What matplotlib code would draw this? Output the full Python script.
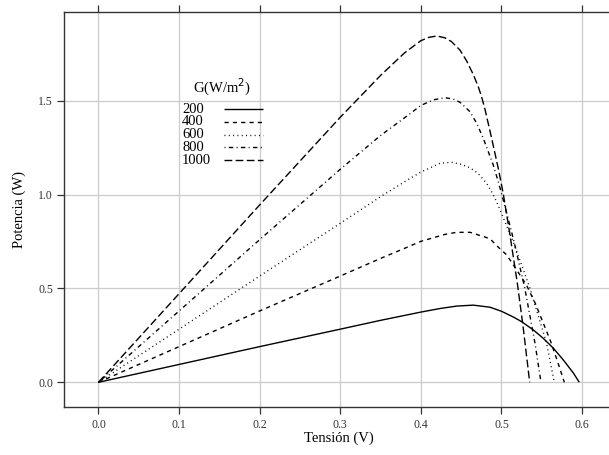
import numpy as np
import matplotlib
matplotlib.use("Agg")
import matplotlib.pyplot as plt

# Curvas potencia-tensión, una por irradiancia
irradiancias = [200, 400, 600, 800, 1000]

v_200 = [0.0, 0.1, 0.2, 0.3, 0.35, 0.4, 0.4237, 0.4444, 0.465, 0.4857, 0.5002,
         0.5146, 0.525, 0.5395, 0.5519, 0.5645, 0.5767, 0.5891, 0.5965]
p_200 = [0.0, 0.095, 0.19, 0.283, 0.33, 0.374, 0.393, 0.406, 0.411, 0.40, 0.378,
         0.348, 0.323, 0.279, 0.234, 0.181, 0.119, 0.05, 0.0]

v_400 = [0.0, 0.1, 0.2, 0.3, 0.35, 0.38, 0.40, 0.43, 0.4444, 0.461, 0.4857, 0.496,
         0.5066, 0.5217, 0.531, 0.542, 0.561, 0.570, 0.578]
p_400 = [0.0, 0.19, 0.38, 0.566, 0.66, 0.714, 0.751, 0.788, 0.799, 0.799, 0.765, 0.72,
         0.678, 0.58, 0.518, 0.42, 0.218, 0.105, 0.0]

v_600 = [0.0, 0.1, 0.2, 0.3, 0.35, 0.38, 0.40, 0.4237, 0.438, 0.4506, 0.4609, 0.471,
         0.4816, 0.4878, 0.494, 0.515, 0.5354, 0.556, 0.5655]
p_600 = [0.0, 0.283, 0.566, 0.847, 0.989, 1.069, 1.12, 1.167, 1.172, 1.161, 1.143, 1.113,
         1.06, 1.015, 0.962, 0.745, 0.5, 0.208, 0.0]

v_800 = [0.0, 0.1, 0.2, 0.3, 0.35, 0.38, 0.40, 0.4156, 0.43, 0.4402, 0.4485, 0.4609,
         0.4692, 0.4774, 0.4836, 0.4898, 0.496, 0.502, 0.515, 0.529, 0.5416, 0.549]
p_800 = [0.0, 0.38, 0.76, 1.135, 1.315, 1.41, 1.475, 1.505, 1.516, 1.509, 1.492, 1.442,
         1.38, 1.30, 1.229, 1.158, 1.069, 0.975, 0.76, 0.5, 0.208, 0.0]

v_1000 = [0.0, 0.1, 0.2, 0.3, 0.35, 0.38, 0.40, 0.41, 0.42, 0.43, 0.438, 0.4485, 0.4568,
          0.465, 0.4712, 0.4754, 0.4795, 0.4878, 0.496, 0.5022, 0.51, 0.5196, 0.527, 0.535]
p_1000 = [0.0, 0.472, 0.945, 1.412, 1.635, 1.756, 1.82, 1.838, 1.845, 1.835, 1.815, 1.77,
          1.712, 1.64, 1.575, 1.52, 1.455, 1.30, 1.14, 1.005, 0.80, 0.53, 0.29, 0.0]

tensiones = [v_200, v_400, v_600, v_800, v_1000]
potencias = [p_200, p_400, p_600, p_800, p_1000]

# estilos tipo lty de R: solid, dashed, dotted, dotdash, longdash
estilos = [(0, ()), (0, (3.0, 3.0)), (0, (0.7, 2.4)), (0, (0.7, 2.4, 3.2, 2.4)), (0, (5.6, 2.4))]

plt.rcParams['font.family'] = ['Liberation Serif', 'DejaVu Serif']

fig = plt.figure(figsize=(6.09, 4.55), dpi=100)
ax = fig.add_axes([0.1056, 0.1062, 0.9018, 0.8675])

ax.set_xlim(-0.0424, 0.639)
ax.set_ylim(-0.13, 1.973)
ax.set_xticks([0.0, 0.1, 0.2, 0.3, 0.4, 0.5, 0.6])
ax.set_yticks([0.0, 0.5, 1.0, 1.5])
ax.set_xticklabels(['0.0', '0.1', '0.2', '0.3', '0.4', '0.5', '0.6'])
ax.set_yticklabels(['0.0', '0.5', '1.0', '1.5'])

ax.grid(True, color='#cccccc', linewidth=0.9)
ax.set_axisbelow(True)

for sp in ax.spines.values():
    sp.set_color('#333333')
    sp.set_linewidth(1.0)
ax.spines['right'].set_visible(False)

ax.tick_params(axis='both', direction='out', length=5, width=0.9, color='#333333',
               labelsize=8.5, labelcolor='#333333', top=True, right=False)
ax.tick_params(axis='x', pad=4)
ax.tick_params(axis='y', pad=3)

for v, p, ls in zip(tensiones, potencias, estilos):
    ax.plot(v, p, color='black', linestyle=ls, linewidth=1.0)

ax.set_xlabel('Tensión (V)', fontsize=10.5, va='center')
ax.set_ylabel('Potencia (W)', fontsize=10.5, va='center')
ax.xaxis.set_label_coords(0.5, -0.0793)
ax.yaxis.set_label_coords(-0.0819, 0.5)

# leyenda dibujada a mano (etiquetas a la izquierda, líneas a la derecha)
ax.text(0.2866, 0.8082, 'G(W/m$^2$)', transform=ax.transAxes, ha='center', va='center',
        fontsize=10.5)
for i, (g, ls) in enumerate(zip(irradiancias, estilos)):
    y = 0.7535 - i * 0.0322
    ax.text(0.2143, y, str(g), transform=ax.transAxes, ha='left', va='center',
            fontsize=10.5)
    ax.plot([0.2913, 0.3623], [y, y], transform=ax.transAxes, color='black',
            linestyle=ls, linewidth=1.0)

fig.savefig('out.png', dpi=100)
